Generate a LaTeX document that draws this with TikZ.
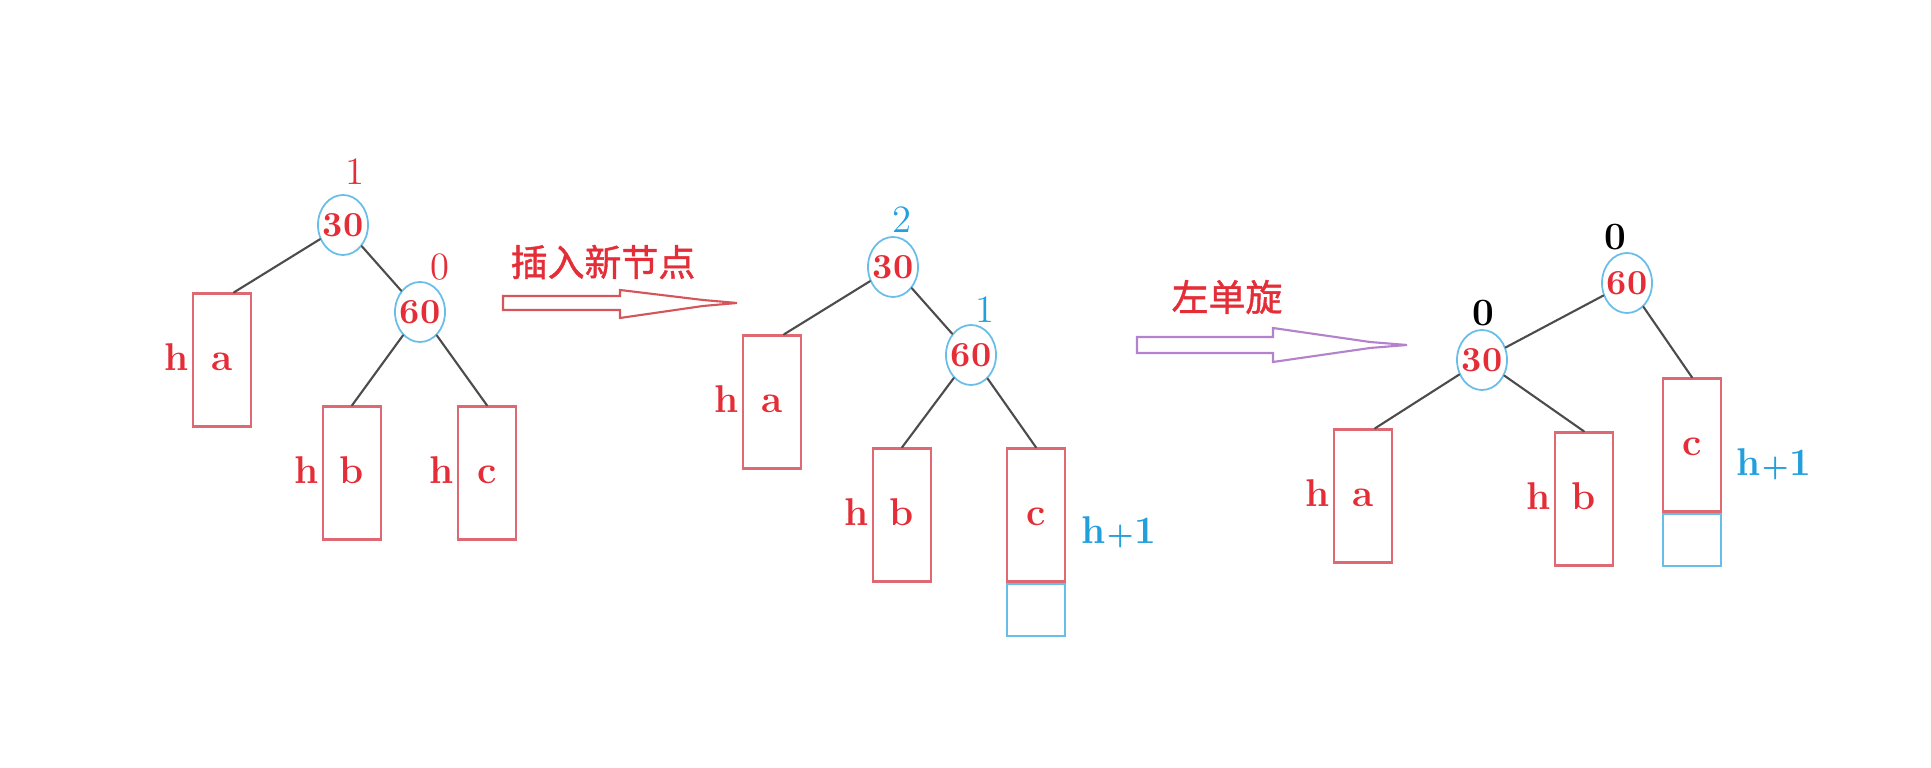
\documentclass[tikz,border=0pt]{standalone}
\usepackage{fontspec}
\newfontfamily\cjk{Noto Sans CJK SC}[FakeBold=1.2]
\usetikzlibrary{shapes.geometric,positioning}
\definecolor{keyred}{RGB}{228,45,55}
\definecolor{boxred}{RGB}{222,105,115}
\definecolor{ringblue}{RGB}{105,190,232}
\definecolor{tagblue}{RGB}{35,160,220}
\definecolor{arrowred}{RGB}{212,85,90}
\definecolor{arrowpurple}{RGB}{180,130,205}
\tikzset{
  every node/.style={font=\fontsize{11}{13}\selectfont\bfseries},
  key/.style={ellipse, draw=ringblue, line width=0.5pt, inner sep=-3pt,
    minimum width=0.5cm, minimum height=0.6cm, text=keyred,
    font=\fontsize{10}{12}\selectfont\bfseries},
  subtree/.style={rectangle, draw=boxred, line width=0.6pt, inner sep=0pt,
    minimum width=0.58cm, minimum height=1.33cm, text=keyred,
    text height=1.6ex, text depth=0.2ex},
  grown/.style={rectangle, draw=ringblue, line width=0.6pt, inner sep=0pt,
    minimum width=0.58cm, minimum height=0.52cm},
  ht/.style={text=keyred, inner sep=0pt, text height=1.6ex, text depth=0.2ex},
  plus one/.style={ht, text=tagblue, anchor=west},
  bal/.style={font=\fontsize{11}{13}\selectfont, inner sep=0pt, text=keyred},
  edge/.style={draw=black!70, line width=0.6pt},
  op text/.style={font=\cjk\fontsize{10.5}{12}\selectfont, text=keyred},
  hollow/.style={line width=0.6pt, fill=white, line join=miter}
}
\newcommand{\hplus}{h\kern0.3pt{\fontsize{8}{8}\selectfont+}\kern0.3pt1}

\begin{document}
\begin{tikzpicture}[x=0.01cm, y=-0.01cm, line cap=round]
  \useasboundingbox (0,0) rectangle (1931,768);

  % before insertion
  \node[key] (p30) at (343,225) {30};
  \node[key] (p60) at (420,312) {60};
  \node[subtree] (pa) at (222,360) {a};
  \node[subtree] (pb) at (352,473) {b};
  \node[subtree] (pc) at (487,473) {c};
  \node[bal] (pq30) at (355,172) {1};
  \node[bal] (pq60) at (440,267) {0};
  \foreach \s in {pa,pb,pc} {
    \node[ht, left=0.03cm of \s] (h\s) {h};
  }

  % after insertion
  \node[key] (i30) at (893,267) {30};
  \node[key] (i60) at (971,355) {60};
  \node[subtree] (ia) at (772,402) {a};
  \node[subtree] (ib) at (902,515) {b};
  \node[subtree] (ic) at (1036,515) {c};
  \node[grown, below=0pt of ic] (in) {};
  \node[bal, text=tagblue] (iq30) at (902,220) {2};
  \node[bal, text=tagblue] (iq60) at (985,310) {1};
  \foreach \s in {ia,ib} {
    \node[ht, left=0.03cm of \s] (h\s) {h};
  }
  \node[plus one] (hic) at (1081,533) {\hplus};

  % after left rotation
  \node[key] (r60) at (1627,283) {60};
  \node[key] (r30) at (1482,360) {30};
  \node[subtree] (ra) at (1363,496) {a};
  \node[subtree] (rb) at (1584,499) {b};
  \node[subtree] (rc) at (1692,445) {c};
  \node[grown, below=0pt of rc] (rn) {};
  \node[bal, text=black, font=\fontsize{11}{13}\selectfont\bfseries] (rq60) at (1615,237) {0};
  \node[bal, text=black, font=\fontsize{11}{13}\selectfont\bfseries] (rq30) at (1483,313) {0};
  \foreach \s in {ra,rb} {
    \node[ht, left=0.03cm of \s] (h\s) {h};
  }
  \node[plus one] (hrc) at (1736,465) {\hplus};

  \foreach \u/\v in {p30/pa.80, p30/p60, p60/pb.north, p60/pc.north,
                     i30/ia.80, i30/i60, i60/ib.north, i60/ic.north,
                     r60/r30, r60/rc.north, r30/ra.80, r30/rb.north} {
    \draw[edge] (\u) -- (\v);
  }

  % steps
  \node[op text] (insert) at (603,262) {插入新节点};
  \draw[hollow, draw=arrowred] (503,296) -- (620,296) -- (620,290) -- (703,300)
    -- (737,303) -- (703,306) -- (620,318) -- (620,310) -- (503,310) -- cycle;
  \node[op text] (rotate) at (1227,297) {左单旋};
  \draw[hollow, draw=arrowpurple] (1137,337) -- (1273,337) -- (1273,328) -- (1370,342)
    -- (1407,345) -- (1370,348) -- (1273,362) -- (1273,353) -- (1137,353) -- cycle;
\end{tikzpicture}
\end{document}
